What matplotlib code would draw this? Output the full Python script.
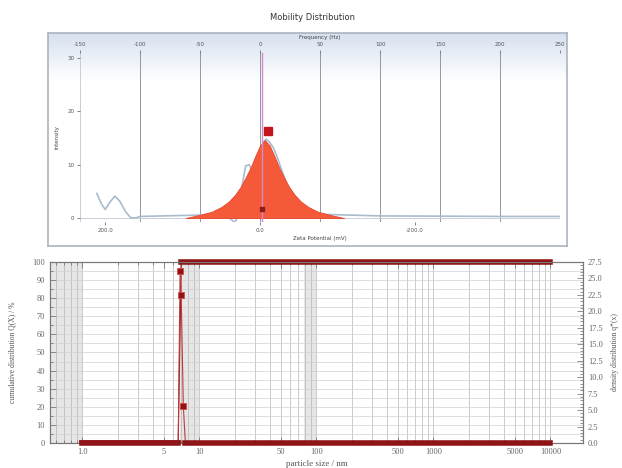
import numpy as np
import matplotlib.pyplot as plt
from matplotlib.ticker import FixedLocator, LogLocator, MultipleLocator, NullFormatter

# ── Mobility distribution (top panel), x in Hz ──────────────────────────────
freq_peak = [-62, -50, -40, -32, -26, -21, -16, -12, -8, -4, 0, 4, 8, 12, 16, 20, 24, 29, 34, 40, 48, 58, 70]
int_peak = [0.0, 0.6, 1.2, 2.1, 3.1, 4.3, 5.9, 7.6, 9.4, 11.6, 13.6, 14.6, 13.6, 11.6, 9.4, 7.6, 5.9, 4.3,
            3.1, 2.1, 1.2, 0.6, 0.0]

freq_raw = [-136, -132, -129, -125, -121, -117, -112, -108, -104, -100, -60, -40, -28, -24, -21, -18, -15, -12,
            -9, -6, -3, 0, 3, 5, 8, 11, 14, 18, 22, 28, 35, 50, 100, 200, 250]
int_raw = [4.6, 2.6, 1.6, 3.0, 4.1, 3.2, 1.2, 0.1, 0.0, 0.3, 0.5, 0.6, 0.5, -0.3, -0.8, 0.5, 6.0, 9.8,
           10.0, 8.5, 9.5, 12.0, 14.2, 14.8, 14.2, 13.2, 11.6, 9.0, 6.5, 3.8, 2.0, 0.7, 0.4, 0.3, 0.3]

peak_marker = (6.5, 16.3)
mean_freq = 1.5
freq_ticks = [-150, -100, -50, 0, 50, 100, 150, 200, 250]
zeta_ticks = [200, 0, -200]
zeta_labels = ["200.0", "0.0", "-200.0"]
intensity_ticks = [0, 10, 20, 30]

# ── Particle size distribution (bottom panel) ────────────────────────────────
size_cum = [1.0, 6.6, 7.0, 10000]
cum = [0, 0, 100, 100]
size_dens = [1.0, 6.6, 6.85, 7.0, 7.3, 7.6, 10000]
dens = [0, 0, 26.1, 22.5, 5.6, 0, 0]
size_ticks = [0.5, 1.0, 5, 10, 50, 100, 500, 1000, 5000, 10000]
size_labels = ["0.5", "1.0", "5", "10", "50", "100", "500", "1000", "5000", "10000"]

fig = plt.figure(figsize=(6.22, 4.68), dpi=100)
fig.patch.set_facecolor("white")

fig.text(0.503, 0.962, "Mobility Distribution", ha="center", va="center", fontsize=6, color="#333333")

# frame with a pale blue gradient
frame = [0.0772, 0.4744, 0.834, 0.455]
bg = fig.add_axes(frame, zorder=0)
grad = np.linspace(0, 1, 200).reshape(-1, 1)
grad = np.clip(grad * 4.5, 0, 1)
top_col = np.array([0.84, 0.88, 0.94])
img = top_col[None, None, :] * (1 - grad[:, :, None]) + np.ones(3)[None, None, :] * grad[:, :, None]
bg.imshow(img, aspect="auto", extent=[0, 1, 0, 1])
bg.set_xticks([])
bg.set_yticks([])
for s in bg.spines.values():
    s.set_color("#aab4c0")
    s.set_linewidth(1.2)

ax = fig.add_axes([0.1286, 0.525, 0.772, 0.3624], zorder=1)
ax.set_facecolor("none")
ax.set_xlim(-150, 250)
ax.set_ylim(-0.8, 31)
for f in freq_ticks[1:-1]:
    ax.axvline(f, color="#8e98a8", lw=0.7, zorder=1)
ax.axvline(-150, color="#c8cfd8", lw=0.7, zorder=1)
ax.axhline(0, color="#c8cfd8", lw=0.7, zorder=1)
ax.plot(freq_raw, int_raw, color="#a9bbcd", lw=1.2, zorder=2)
ax.fill_between(freq_peak, int_peak, color="#f4593a", edgecolor="#e8462a", lw=0.6, zorder=3)
ax.axvline(mean_freq, color="#d58ac8", lw=1.0, zorder=4)
ax.plot([mean_freq], [1.6], marker="s", ms=2.5, color="#8a1c1c", zorder=5)
ax.plot([peak_marker[0]], [peak_marker[1]], marker="s", ms=6, color="#c3161c", zorder=5)

for s in ax.spines.values():
    s.set_visible(False)
ax.xaxis.tick_top()
ax.xaxis.set_label_position("top")
ax.set_xticks(freq_ticks)
ax.set_xticklabels([str(v) for v in freq_ticks])
ax.set_xlabel("Frequency (Hz)", fontsize=4, color="#444444", labelpad=2)
ax.set_yticks(intensity_ticks)
ax.set_ylabel("Intensity", fontsize=4, color="#444444", labelpad=6)
ax.tick_params(axis="both", labelsize=4, colors="#555555", length=2, width=0.5, pad=2)

zx = ax.secondary_xaxis("bottom", functions=(lambda f: -1.55 * f, lambda z: -z / 1.55))
zx.set_xticks(zeta_ticks)
zx.set_xticklabels(zeta_labels)
zx.tick_params(labelsize=4, colors="#555555", length=2, width=0.5, pad=2)
zx.set_xlabel("Zeta Potential (mV)", fontsize=4, color="#444444", labelpad=2)
zx.spines["bottom"].set_visible(False)

# ── bottom panel ──────────────────────────────────────────────────────────────
serif = ["Liberation Serif", "DejaVu Serif"]
red = "#8e1416"

bx = fig.add_axes([0.0804, 0.0534, 0.857, 0.3868])
bx.set_xscale("log")
bx.set_xlim(0.53, 19000)
bx.set_ylim(0, 100)
for lo, hi in [(0.53, 1.0), (6.8, 10), (78, 100)]:
    bx.axvspan(lo, hi, color="#e6e6e6", lw=0, zorder=0)
bx.xaxis.set_major_locator(FixedLocator(size_ticks))
bx.xaxis.set_minor_locator(LogLocator(base=10, subs=np.arange(2, 10), numticks=20))
bx.xaxis.set_minor_formatter(NullFormatter())
bx.set_xticklabels(size_labels)
bx.yaxis.set_major_locator(MultipleLocator(10))
bx.yaxis.set_minor_locator(MultipleLocator(5))
bx.grid(which="both", axis="x", color="#b5b5b5", lw=0.5)
bx.grid(which="both", axis="y", color="#d0d0d0", lw=0.5)
bx.set_axisbelow(True)

bx.plot(size_cum, cum, color=red, lw=0.8, zorder=3)
bx.plot(size_cum[:2], cum[:2], color=red, lw=4.0, zorder=3)
bx.plot(size_cum[2:], cum[2:], color=red, lw=4.0, zorder=3, clip_on=False)

rx = bx.twinx()
rx.set_ylim(0, 27.5)
rx.plot(size_dens, dens, color="#c0393b", lw=0.8, zorder=3)
rx.plot(size_dens[:2], dens[:2], color=red, lw=4.0, zorder=3, clip_on=False)
rx.plot(size_dens[5:], dens[5:], color=red, lw=4.0, zorder=3, clip_on=False)
rx.plot(size_dens[2:5], dens[2:5], ls="none", marker="s", ms=4.5, color=red,
        markeredgecolor="#d24a4a", markeredgewidth=0.6, zorder=4)
rx.yaxis.set_major_locator(MultipleLocator(2.5))
rx.yaxis.set_minor_locator(MultipleLocator(0.5))
rx.set_yticklabels([f"{v:.1f}" for v in rx.get_yticks()])

for a in (bx, rx):
    for s in a.spines.values():
        s.set_color("#777777")
        s.set_linewidth(0.8)
bx.tick_params(which="both", direction="in", top=True, labelsize=6, colors="#666666", width=0.5)
bx.tick_params(which="major", length=4)
bx.tick_params(which="minor", length=2)
rx.tick_params(which="both", direction="in", labelsize=6, colors="#666666", width=0.5)
rx.tick_params(which="major", length=4)
rx.tick_params(which="minor", length=2)
for lab in bx.get_xticklabels() + bx.get_yticklabels() + rx.get_yticklabels():
    lab.set_family(serif)

bx.set_xlabel("particle size / nm", fontsize=6.5, color="#555555", family=serif, labelpad=3)
bx.set_ylabel("cumulative distribution Q(X) / %", fontsize=5.5, color="#555555", family=serif, labelpad=12)
rx.set_ylabel("density distribution q*(x)", fontsize=5.5, color="#555555", family=serif, labelpad=6)

fig.savefig("out.png", dpi=100, facecolor="white")
